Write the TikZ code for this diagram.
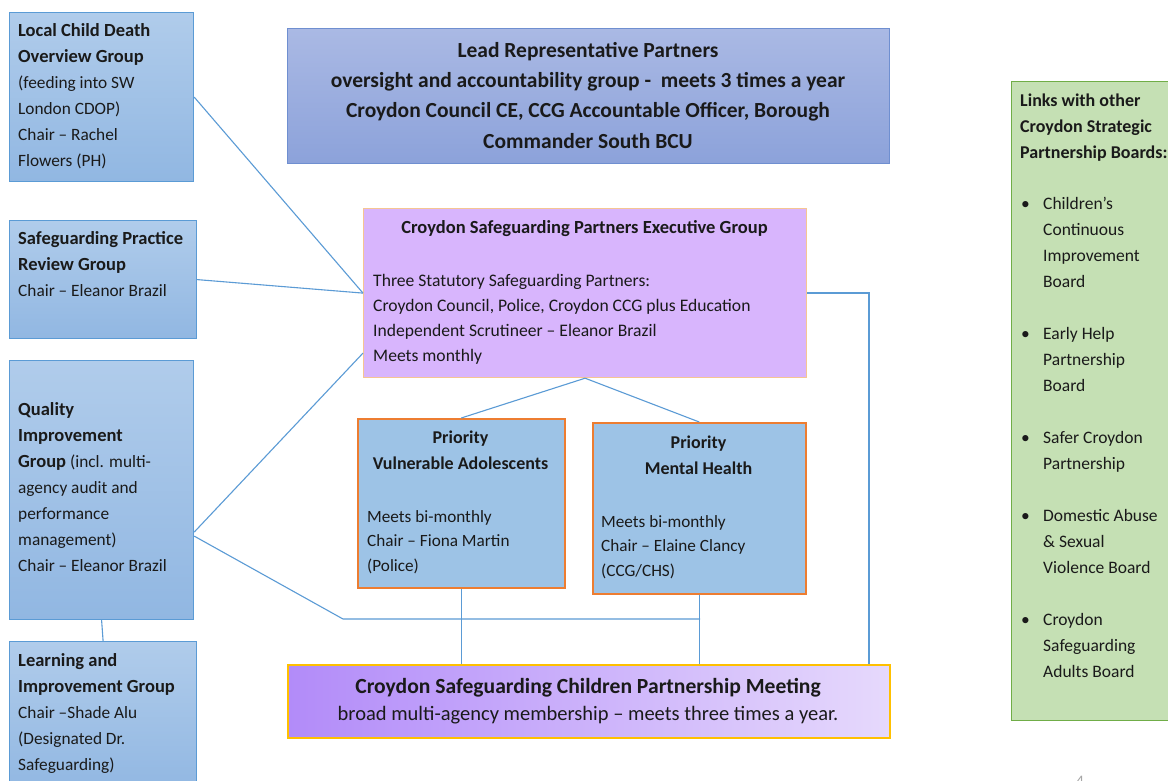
\documentclass[tikz,border=0pt]{standalone}
\usepackage{fontspec}
\setmainfont{Carlito}
\definecolor{lnblue}{HTML}{5B9BD5}
\definecolor{lbtop}{HTML}{B0CCEB}
\definecolor{lbbot}{HTML}{91B7E2}
\definecolor{leadtop}{HTML}{AAB9E4}
\definecolor{leadbot}{HTML}{8CA2DA}
\definecolor{leadedge}{HTML}{6F8FD0}
\definecolor{execfill}{HTML}{D8B5FD}
\definecolor{execedge}{HTML}{F6C592}
\definecolor{prifill}{HTML}{9DC3E6}
\definecolor{priedge}{HTML}{ED7D31}
\definecolor{cstop}{HTML}{B28BF9}
\definecolor{csbot}{HTML}{E6D9FC}
\definecolor{csedge}{HTML}{FFC000}
\definecolor{grfill}{HTML}{C5E0B4}
\definecolor{gredge}{HTML}{70AD47}
\definecolor{txt}{HTML}{1A1A1A}
\newcommand{\bl}[1]{{\fontsize{18.5}{26}\selectfont\bfseries #1}}
\begin{document}
\begin{tikzpicture}[x=1pt,y=-1pt,
  box/.style={draw, anchor=north west, inner sep=0pt, line width=1.2pt},
  lbox/.style={box, draw=lnblue, top color=lbtop, bottom color=lbbot},
  leadbox/.style={box, draw=leadedge, top color=leadtop, bottom color=leadbot},
  execbox/.style={box, draw=execedge, fill=execfill},
  pribox/.style={box, draw=priedge, fill=prifill, line width=1.5pt},
  csbox/.style={box, draw=csedge, line width=1.5pt, left color=cstop, right color=csbot},
  grbox/.style={box, draw=gredge, fill=grfill},
  tl/.style={inner sep=0pt, anchor=base west, align=left, text=txt, font=\fontsize{17.3}{26}\selectfont},
  tc/.style={inner sep=0pt, anchor=base, align=center, text=txt},
  conn/.style={draw=lnblue, line width=1.1pt}
]
\clip (0,0) rectangle (1168,780);
\fill[white] (0,0) rectangle (1168,780);

% boxes
\node[lbox, minimum width=184pt, minimum height=169pt] (lcd) at (9,12) {};
\node[lbox, minimum width=187pt, minimum height=118pt] (sprg) at (9,220) {};
\node[lbox, minimum width=184pt, minimum height=259pt] (qig) at (9,360) {};
\node[lbox, minimum width=187pt, minimum height=150pt] (lig) at (9,641) {};
\node[leadbox, minimum width=602pt, minimum height=135pt] (lead) at (287,28) {};
\node[execbox, minimum width=443pt, minimum height=169pt] (exec) at (363,208) {};
\node[pribox, minimum width=207pt, minimum height=169pt] (va) at (357,418) {};
\node[pribox, minimum width=213pt, minimum height=171pt] (mh) at (592,422) {};
\node[csbox, minimum width=602pt, minimum height=73pt] (cs) at (287,664) {};
\node[grbox, minimum width=175pt, minimum height=639pt] (gr) at (1011,81) {};

% texts (base anchor = baseline of last line)
\node[tl] (lcdt) at (18,166) {\bl{Local Child Death}\\\bl{Overview Group}\\(feeding into SW\\London CDOP)\\Chair – Rachel\\Flowers (PH)};
\node[tl] (sprgt) at (18,296) {\bl{Safeguarding Practice}\\\bl{Review Group}\\Chair – Eleanor Brazil};
\node[tl] (qigt) at (18,571) {\bl{Quality}\\\bl{Improvement}\\\bl{Group} (incl. multi-\\agency audit and\\performance\\management)\\Chair – Eleanor Brazil};
\node[tl] (ligt) at (18,770) {\bl{Learning and}\\\bl{Improvement Group}\\Chair –Shade Alu\\(Designated Dr.\\Safeguarding)};

\node[tc, font=\fontsize{21.5}{30.3}\selectfont\bfseries] (leadt) at (588,148) {Lead Representative Partners\\oversight and accountability group -\ \ meets 3 times a year\\Croydon Council CE, CCG Accountable Officer, Borough\\Commander South BCU};

\node[tc, font=\fontsize{18.5}{26}\selectfont\bfseries] (exect) at (584.5,233) {Croydon Safeguarding Partners Executive Group};
\node[tl, font=\fontsize{17.6}{24.7}\selectfont] (execb) at (373,361) {Three Statutory Safeguarding Partners:\\Croydon Council, Police, Croydon CCG plus Education\\Independent Scrutineer – Eleanor Brazil\\Meets monthly};

\node[tc, font=\fontsize{18}{26}\selectfont\bfseries] (vat) at (460.5,469) {Priority\\Vulnerable Adolescents};
\node[tl, font=\fontsize{17.2}{24.5}\selectfont] (vab) at (367,571) {Meets bi-monthly\\Chair – Fiona Martin\\(Police)};
\node[tc, font=\fontsize{18}{26}\selectfont\bfseries] (mht) at (698.5,474) {Priority\\Mental Health};
\node[tl, font=\fontsize{17.2}{24.5}\selectfont] (mhb) at (601,576) {Meets bi-monthly\\Chair – Elaine Clancy\\(CCG/CHS)};

\node[tc, font=\fontsize{21.6}{28}\selectfont\bfseries] (cst) at (588,693) {Croydon Safeguarding Children Partnership Meeting};
\node[tc, font=\fontsize{20.5}{28}\selectfont] (csb) at (588,720) {broad multi-agency membership – meets three times a year.};

\node[tl, font=\fontsize{18}{26}\selectfont\bfseries] (grt) at (1020,158) {Links with other\\Croydon Strategic\\Partnership Boards:};
\node[tl, font=\fontsize{17.5}{26}\selectfont] (grl) at (1021,209) {%
\begin{tabular}[t]{@{}p{22pt}@{}l@{}}
•& Children’s\\ & Continuous\\ & Improvement\\ & Board\\[26pt]
•& Early Help\\ & Partnership\\ & Board\\[26pt]
•& Safer Croydon\\ & Partnership\\[26pt]
•& Domestic Abuse\\ & \& Sexual\\ & Violence Board\\[26pt]
•& Croydon\\ & Safeguarding\\ & Adults Board
\end{tabular}};
\node[inner sep=0pt, anchor=base, text=gray!70, font=\fontsize{16}{20}\selectfont] (pg) at (1080,786) {4};

% connectors
\draw[conn] (lcd.east) -- (exec.west);
\draw[conn] (sprg.east) -- (exec.west);
\draw[conn] ([yshift=-42pt]qig.east) -- ([yshift=-60pt]exec.west);
\coordinate (j1) at (343,619);
\coordinate (j2) at (700,619);
\draw[conn] ([yshift=-46pt]qig.east) -- (j1) -- (j2);
\draw[conn] (va.south) -- (va.south |- cs.north);
\draw[conn] (mh.south) -- (mh.south |- cs.north);
\coordinate (r1) at (869,293);
\draw[conn] (exec.east |- r1) -- (r1) -- (r1 |- cs.north);
\draw[conn] (exec.south) -- (va.north);
\draw[conn] (exec.south) -- (mh.north);
\draw[conn] (qig.south) -- (lig.north);
\end{tikzpicture}
\end{document}
